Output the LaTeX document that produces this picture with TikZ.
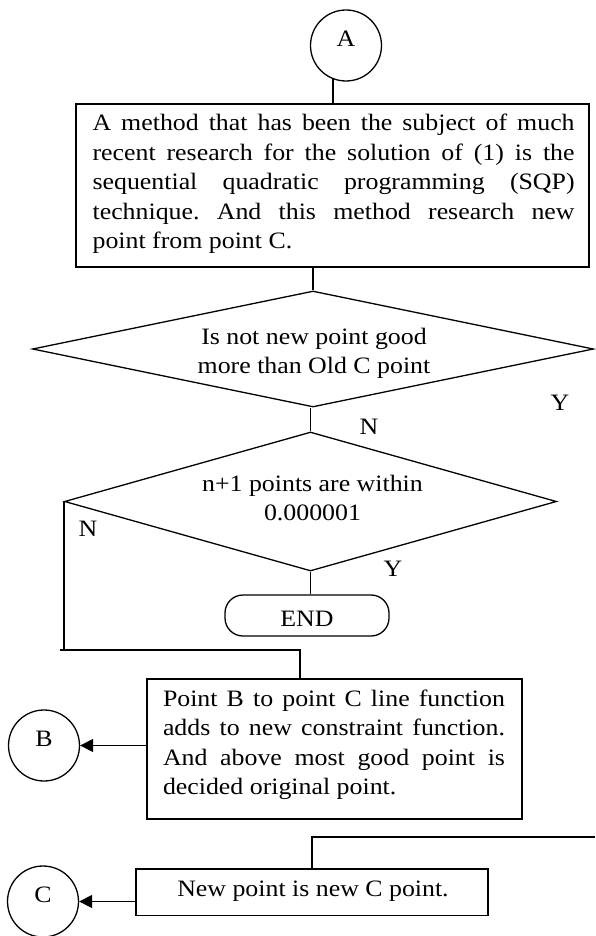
\documentclass[tikz,border=0pt]{standalone}
\usepackage{fontspec}
\setmainfont{Liberation Serif}[FakeStretch=1.1]
\usetikzlibrary{shapes.geometric,arrows.meta}
\frenchspacing
\begin{document}
\begin{tikzpicture}[x=1pt,y=-1pt,
  every node/.style={font=\fontsize{23.5}{29.5}\selectfont},
  line/.style={line width=1.3pt},
  conn/.style={draw, circle, line width=1.3pt, minimum size=71pt, inner sep=0pt,
               text height=15.6pt, text depth=13.2pt},
  procbox/.style={draw, rectangle, line width=1.3pt, inner sep=0pt},
  body/.style={inner sep=0pt, align=justify},
  decision/.style={draw, diamond, line width=1.3pt, inner sep=0pt},
  terminal/.style={draw, rectangle, rounded corners=18pt, line width=1.3pt, inner sep=0pt},
  flowarrow/.style={line width=1.3pt, -{Triangle[length=13pt,width=13pt]}},
  yn/.style={inner sep=0pt, anchor=base}
]
\useasboundingbox (0,0) rectangle (595,936);

% connectors (off-page references)
\node[conn] (cA) at (346,45.5) {A};
\node[conn] (cB) at (44,745.5) {B};
\node[conn] (cC) at (43,901.5) {C};

% SQP step
\node[procbox, minimum width=513pt, minimum height=163pt] (box1) at (332.5,185.5) {};
\node[body, text width=482pt] (box1text) at (333.6,184)
  {A method that has been the subject of much\linebreak
   recent research for the solution of (1) is the\linebreak
   sequential quadratic programming (SQP)\linebreak
   technique. And this method research new\linebreak
   point from point C.};

% decisions
\node[decision, minimum width=561pt, minimum height=116pt] (d1) at (313,349) {};
\node[inner sep=0pt, align=center] (d1text) at (314,353.5)
  {Is not new point good\\more than Old C point};
\node[decision, minimum width=492pt, minimum height=139pt] (d2) at (310.5,501.5) {};
\node[inner sep=0pt, align=center] (d2text) at (312.5,498)
  {n+1 points are within\\0.000001};

% branch labels
\node[yn] (y1) at (560,410) {Y};
\node[yn] (n1) at (369,434) {N};
\node[yn] (n2) at (88,536) {N};
\node[yn] (y2) at (393,576) {Y};

% terminator
\node[terminal, minimum width=164pt, minimum height=41pt,
      text height=22.4pt, text depth=0pt] (endn) at (307,615.5) {END};

% constraint update step
\node[procbox, minimum width=375pt, minimum height=140pt] (box2) at (334.5,749) {};
\node[body, text width=342pt] (box2text) at (334,744.8)
  {Point B to point C line function\linebreak
   adds to new constraint function.\linebreak
   And above most good point is\linebreak
   decided original point.};

% new C point step
\node[procbox, minimum width=352pt, minimum height=46.5pt] (box3) at (312,892.3) {};
\node[inner sep=0pt, anchor=base] (box3text) at (313,896) {New point is new C point.};

% flow lines
\draw[line] (cA.249) -- (cA.249 |- box1.north);
\draw[line] (box1.south -| d1.north) -- (d1.north);
\draw[line] (d2.north) -- (d2.north |- d1.south);
\draw[line] (d2.south) -- (d2.south |- endn.north);

\coordinate (loopL) at (60,650);
\coordinate (loopR) at (300,650);
\draw[line] (d2.west) -- (d2.west |- loopL);
\draw[line] (loopL) -- (loopR) -- (loopR |- box2.north);

\draw[flowarrow] (box2.west |- cB.east) -- (cB.east);
\draw[flowarrow] (box3.west |- cC.east) -- (cC.east);

\coordinate (rightEnd) at (595,837);
\draw[line] (box3.north) |- (rightEnd);
\end{tikzpicture}
\end{document}
